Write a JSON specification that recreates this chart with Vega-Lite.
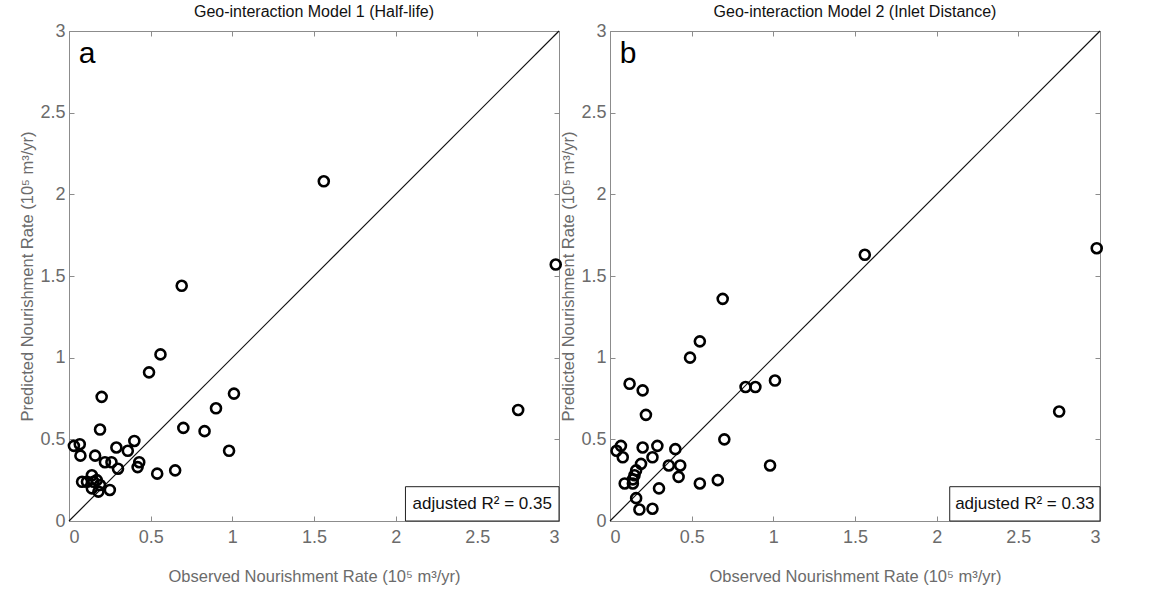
{
  "$schema": "https://vega.github.io/schema/vega-lite/v6.json",
  "background": "white",
  "padding": {"left": 19, "top": 3, "right": 5, "bottom": 2},
  "spacing": -7,
  "config": {
    "font": "Liberation Sans",
    "view": {"stroke": "#8c8c8c", "strokeWidth": 1}
  },
  "datasets": {
    "a": [
      {"obs": 2.98, "pred": 1.57}, {"obs": 2.75, "pred": 0.68}, {"obs": 1.56, "pred": 2.08}, {"obs": 0.69, "pred": 1.44},
      {"obs": 0.56, "pred": 1.02}, {"obs": 0.49, "pred": 0.91}, {"obs": 1.01, "pred": 0.78}, {"obs": 0.90, "pred": 0.69},
      {"obs": 0.70, "pred": 0.57}, {"obs": 0.83, "pred": 0.55}, {"obs": 0.98, "pred": 0.43}, {"obs": 0.65, "pred": 0.31},
      {"obs": 0.54, "pred": 0.29}, {"obs": 0.20, "pred": 0.76}, {"obs": 0.19, "pred": 0.56}, {"obs": 0.03, "pred": 0.46},
      {"obs": 0.066, "pred": 0.47}, {"obs": 0.07, "pred": 0.40}, {"obs": 0.40, "pred": 0.49}, {"obs": 0.29, "pred": 0.45},
      {"obs": 0.36, "pred": 0.43}, {"obs": 0.16, "pred": 0.40}, {"obs": 0.22, "pred": 0.36}, {"obs": 0.26, "pred": 0.36},
      {"obs": 0.43, "pred": 0.36}, {"obs": 0.42, "pred": 0.33}, {"obs": 0.30, "pred": 0.32}, {"obs": 0.08, "pred": 0.24},
      {"obs": 0.11, "pred": 0.24}, {"obs": 0.14, "pred": 0.28}, {"obs": 0.15, "pred": 0.24}, {"obs": 0.17, "pred": 0.25},
      {"obs": 0.19, "pred": 0.22}, {"obs": 0.14, "pred": 0.20}, {"obs": 0.18, "pred": 0.18}, {"obs": 0.25, "pred": 0.19}
    ],
    "b": [
      {"obs": 2.98, "pred": 1.67}, {"obs": 2.75, "pred": 0.67}, {"obs": 1.56, "pred": 1.63}, {"obs": 0.69, "pred": 1.36},
      {"obs": 0.55, "pred": 1.10}, {"obs": 0.49, "pred": 1.00}, {"obs": 1.01, "pred": 0.86}, {"obs": 0.89, "pred": 0.82},
      {"obs": 0.70, "pred": 0.50}, {"obs": 0.83, "pred": 0.82}, {"obs": 0.98, "pred": 0.34}, {"obs": 0.66, "pred": 0.25},
      {"obs": 0.55, "pred": 0.23}, {"obs": 0.12, "pred": 0.84}, {"obs": 0.20, "pred": 0.80}, {"obs": 0.22, "pred": 0.65},
      {"obs": 0.04, "pred": 0.43}, {"obs": 0.067, "pred": 0.46}, {"obs": 0.078, "pred": 0.39}, {"obs": 0.20, "pred": 0.45},
      {"obs": 0.29, "pred": 0.46}, {"obs": 0.26, "pred": 0.39}, {"obs": 0.40, "pred": 0.44}, {"obs": 0.19, "pred": 0.35},
      {"obs": 0.36, "pred": 0.34}, {"obs": 0.43, "pred": 0.34}, {"obs": 0.42, "pred": 0.27}, {"obs": 0.16, "pred": 0.31},
      {"obs": 0.15, "pred": 0.28}, {"obs": 0.14, "pred": 0.255}, {"obs": 0.14, "pred": 0.23}, {"obs": 0.09, "pred": 0.23},
      {"obs": 0.30, "pred": 0.20}, {"obs": 0.16, "pred": 0.14}, {"obs": 0.18, "pred": 0.07}, {"obs": 0.26, "pred": 0.075}
    ],
    "diag": [{"x": 0, "y": 0}, {"x": 3, "y": 3}],
    "boxA": [{"x": 2.06, "x2": 3, "y": 0, "y2": 0.21, "tx": 2.53, "ty": 0.105, "label": "adjusted R² = 0.35", "letter": "a", "lx": 0.06, "ly": 2.86}],
    "boxB": [{"x": 2.08, "x2": 3, "y": 0, "y2": 0.21, "tx": 2.54, "ty": 0.105, "label": "adjusted R² = 0.33", "letter": "b", "lx": 0.06, "ly": 2.86}]
  },
  "hconcat": [
    {
      "width": 490, "height": 490,
      "title": {"text": "Geo-interaction Model 1 (Half-life)", "fontSize": 16, "fontWeight": "normal", "font": "Liberation Sans", "color": "#111111", "offset": 2},
      "resolve": {"axis": {"x": "independent", "y": "independent"}},
      "layer": [
        {
          "data": {"name": "diag"},
          "mark": {"type": "line", "color": "#111111", "strokeWidth": 1.2},
          "encoding": {
            "x": {"field": "x", "type": "quantitative", "scale": {"domain": [0, 3], "nice": false}, "axis": {"orient": "top", "labels": false, "title": null, "domain": false, "grid": false, "values": [0, 0.5, 1, 1.5, 2, 2.5, 3], "tickSize": -5, "tickColor": "#8c8c8c"}},
            "y": {"field": "y", "type": "quantitative", "scale": {"domain": [0, 3], "nice": false}, "axis": {"orient": "right", "labels": false, "title": null, "domain": false, "grid": false, "values": [0, 0.5, 1, 1.5, 2, 2.5, 3], "tickSize": -5, "tickColor": "#8c8c8c"}}
          }
        },
        {
          "data": {"name": "a"},
          "mark": {"type": "point", "shape": "circle", "filled": false, "stroke": "#000000", "strokeWidth": 2.6, "size": 100, "opacity": 1},
          "encoding": {
            "x": {"field": "obs", "type": "quantitative", "scale": {"domain": [0, 3], "nice": false}, "axis": {"orient": "bottom", "title": "Observed Nourishment Rate (10⁵ m³/yr)", "values": [0, 0.5, 1, 1.5, 2, 2.5, 3], "format": "~g", "grid": false, "tickSize": -5, "tickColor": "#8c8c8c", "domainColor": "#8c8c8c", "labelColor": "#6b6b6b", "labelFontSize": 18, "labelFont": "Liberation Sans", "labelPadding": 12, "titleColor": "#6b6b6b", "titleFontSize": 16.5, "titleFont": "Liberation Sans", "titleFontWeight": "normal", "titlePadding": 22}},
            "y": {"field": "pred", "type": "quantitative", "scale": {"domain": [0, 3], "nice": false}, "axis": {"orient": "left", "title": "Predicted Nourishment Rate (10⁵ m³/yr)", "values": [0, 0.5, 1, 1.5, 2, 2.5, 3], "format": "~g", "grid": false, "tickSize": -5, "tickColor": "#8c8c8c", "domainColor": "#8c8c8c", "labelColor": "#6b6b6b", "labelFontSize": 18, "labelFont": "Liberation Sans", "labelPadding": 9, "titleColor": "#6b6b6b", "titleFontSize": 16.5, "titleFont": "Liberation Sans", "titleFontWeight": "normal", "titlePadding": 4}}
          }
        },
        {
          "data": {"name": "boxA"},
          "mark": {"type": "rect", "fill": "white", "stroke": "#222222", "strokeWidth": 1},
          "encoding": {
            "x": {"field": "x", "type": "quantitative", "axis": null},
            "x2": {"field": "x2"},
            "y": {"field": "y", "type": "quantitative", "axis": null},
            "y2": {"field": "y2"}
          }
        },
        {
          "data": {"name": "boxA"},
          "mark": {"type": "text", "fontSize": 17, "color": "#111111", "align": "center", "baseline": "middle", "font": "Liberation Sans"},
          "encoding": {
            "x": {"field": "tx", "type": "quantitative", "axis": null},
            "y": {"field": "ty", "type": "quantitative", "axis": null},
            "text": {"field": "label"}
          }
        },
        {
          "data": {"name": "boxA"},
          "mark": {"type": "text", "fontSize": 30, "color": "#000000", "align": "left", "baseline": "middle", "font": "Liberation Sans"},
          "encoding": {
            "x": {"field": "lx", "type": "quantitative", "axis": null},
            "y": {"field": "ly", "type": "quantitative", "axis": null},
            "text": {"field": "letter"}
          }
        }
      ]
    },
    {
      "width": 490, "height": 490,
      "title": {"text": "Geo-interaction Model 2 (Inlet Distance)", "fontSize": 16, "fontWeight": "normal", "font": "Liberation Sans", "color": "#111111", "offset": 2},
      "resolve": {"axis": {"x": "independent", "y": "independent"}},
      "layer": [
        {
          "data": {"name": "diag"},
          "mark": {"type": "line", "color": "#111111", "strokeWidth": 1.2},
          "encoding": {
            "x": {"field": "x", "type": "quantitative", "scale": {"domain": [0, 3], "nice": false}, "axis": {"orient": "top", "labels": false, "title": null, "domain": false, "grid": false, "values": [0, 0.5, 1, 1.5, 2, 2.5, 3], "tickSize": -5, "tickColor": "#8c8c8c"}},
            "y": {"field": "y", "type": "quantitative", "scale": {"domain": [0, 3], "nice": false}, "axis": {"orient": "right", "labels": false, "title": null, "domain": false, "grid": false, "values": [0, 0.5, 1, 1.5, 2, 2.5, 3], "tickSize": -5, "tickColor": "#8c8c8c"}}
          }
        },
        {
          "data": {"name": "b"},
          "mark": {"type": "point", "shape": "circle", "filled": false, "stroke": "#000000", "strokeWidth": 2.6, "size": 100, "opacity": 1},
          "encoding": {
            "x": {"field": "obs", "type": "quantitative", "scale": {"domain": [0, 3], "nice": false}, "axis": {"orient": "bottom", "title": "Observed Nourishment Rate (10⁵ m³/yr)", "values": [0, 0.5, 1, 1.5, 2, 2.5, 3], "format": "~g", "grid": false, "tickSize": -5, "tickColor": "#8c8c8c", "domainColor": "#8c8c8c", "labelColor": "#6b6b6b", "labelFontSize": 18, "labelFont": "Liberation Sans", "labelPadding": 12, "titleColor": "#6b6b6b", "titleFontSize": 16.5, "titleFont": "Liberation Sans", "titleFontWeight": "normal", "titlePadding": 22}},
            "y": {"field": "pred", "type": "quantitative", "scale": {"domain": [0, 3], "nice": false}, "axis": {"orient": "left", "title": "Predicted Nourishment Rate (10⁵ m³/yr)", "values": [0, 0.5, 1, 1.5, 2, 2.5, 3], "format": "~g", "grid": false, "tickSize": -5, "tickColor": "#8c8c8c", "domainColor": "#8c8c8c", "labelColor": "#6b6b6b", "labelFontSize": 18, "labelFont": "Liberation Sans", "labelPadding": 9, "titleColor": "#6b6b6b", "titleFontSize": 16.5, "titleFont": "Liberation Sans", "titleFontWeight": "normal", "titlePadding": 4}}
          }
        },
        {
          "data": {"name": "boxB"},
          "mark": {"type": "rect", "fill": "white", "stroke": "#222222", "strokeWidth": 1},
          "encoding": {
            "x": {"field": "x", "type": "quantitative", "axis": null},
            "x2": {"field": "x2"},
            "y": {"field": "y", "type": "quantitative", "axis": null},
            "y2": {"field": "y2"}
          }
        },
        {
          "data": {"name": "boxB"},
          "mark": {"type": "text", "fontSize": 17, "color": "#111111", "align": "center", "baseline": "middle", "font": "Liberation Sans"},
          "encoding": {
            "x": {"field": "tx", "type": "quantitative", "axis": null},
            "y": {"field": "ty", "type": "quantitative", "axis": null},
            "text": {"field": "label"}
          }
        },
        {
          "data": {"name": "boxB"},
          "mark": {"type": "text", "fontSize": 30, "color": "#000000", "align": "left", "baseline": "middle", "font": "Liberation Sans"},
          "encoding": {
            "x": {"field": "lx", "type": "quantitative", "axis": null},
            "y": {"field": "ly", "type": "quantitative", "axis": null},
            "text": {"field": "letter"}
          }
        }
      ]
    }
  ]
}
